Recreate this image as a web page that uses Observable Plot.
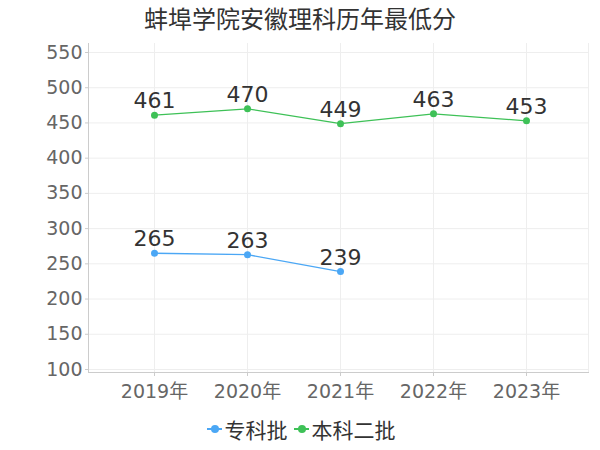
<!DOCTYPE html>
<html>
<head>
<meta charset="utf-8">
<script src="https://cdn.jsdelivr.net/npm/d3@7"></script>
<script src="https://cdn.jsdelivr.net/npm/@observablehq/plot@0.6"></script>
<style>
  body { margin: 0; background: #fff; font-family: "DejaVu Sans", "Noto Sans CJK SC", sans-serif; }
  #wrap { width: 600px; }
  #title { height: 40px; line-height: 40px; text-align: center; font-size: 24px; color: #333; }
  #legend { display: flex; justify-content: center; align-items: center; margin-top: 4px; font-size: 21px; color: #333; padding-left: 2px; }
  .item { display: flex; align-items: center; margin: 0 3px; }
  .icon { position: relative; width: 15px; height: 10px; margin-right: 3px; }
  .icon .ln { position: absolute; left: 0; right: 0; top: 4px; height: 2px; }
  .icon .dt { position: absolute; left: 4px; top: 1px; width: 8px; height: 8px; border-radius: 50%; }
</style>
</head>
<body>
<div id="wrap">
  <div id="title">蚌埠学院安徽理科历年最低分</div>
  <div id="chart"></div>
  <div id="legend"></div>
</div>
<script>
const years = ["2019年", "2020年", "2021年", "2022年", "2023年"];
const seriesNames = ["专科批", "本科二批"];
const seriesColors = ["#4ba7f5", "#3ec157"];
const zhuankeYears = ["2019年", "2020年", "2021年"];
const zhuankeValues = [265, 263, 239];
const benkeYears = ["2019年", "2020年", "2021年", "2022年", "2023年"];
const benkeValues = [461, 470, 449, 463, 453];
const yTicks = [100, 150, 200, 250, 300, 350, 400, 450, 500, 550];

const data = [
  ...zhuankeYears.map((y, i) => ({year: y, value: zhuankeValues[i], series: seriesNames[0]})),
  ...benkeYears.map((y, i) => ({year: y, value: benkeValues[i], series: seriesNames[1]}))
];

const chart = Plot.plot({
  width: 600,
  height: 370,
  marginLeft: 88,
  marginRight: 12,
  marginTop: 3,
  marginBottom: 38,
  style: {fontFamily: '"DejaVu Sans", "Noto Sans CJK SC", sans-serif', background: "#fff"},
  x: {type: "point", domain: years, padding: 0.64, insetLeft: 4},
  y: {domain: [100, 550], insetTop: 9, insetBottom: 3},
  color: {domain: seriesNames, range: seriesColors},
  marks: [
    Plot.gridY(yTicks, {stroke: "#eeeeee", strokeOpacity: 1}),
    Plot.gridX(years, {stroke: "#eeeeee", strokeOpacity: 1}),
    Plot.frame({anchor: "right", stroke: "#eeeeee"}),
    Plot.frame({anchor: "left", stroke: "#cccccc"}),
    Plot.frame({anchor: "bottom", stroke: "#cccccc"}),
    Plot.axisY(yTicks, {tickSize: 3, tickPadding: 3, fontSize: 19, fill: "#666", stroke: "#ccc", label: null}),
    Plot.axisX(years, {tickSize: 4, tickPadding: 8, fontSize: 19, fill: "#666", stroke: "#ccc", label: null}),
    Plot.line(data, {x: "year", y: "value", stroke: "series", z: "series", strokeWidth: 1.3}),
    Plot.dot(data, {x: "year", y: "value", fill: "series", r: 3.5}),
    Plot.text(data, {x: "year", y: "value", text: d => String(d.value), dy: -14, fontSize: 22, fill: "#333"})
  ]
});
document.getElementById("chart").appendChild(chart);

const legend = document.getElementById("legend");
seriesNames.forEach((name, i) => {
  const item = document.createElement("div");
  item.className = "item";
  item.innerHTML = `<span class="icon"><span class="ln" style="background:${seriesColors[i]}"></span><span class="dt" style="background:${seriesColors[i]}"></span></span><span>${name}</span>`;
  legend.appendChild(item);
});
</script>
</body>
</html>
